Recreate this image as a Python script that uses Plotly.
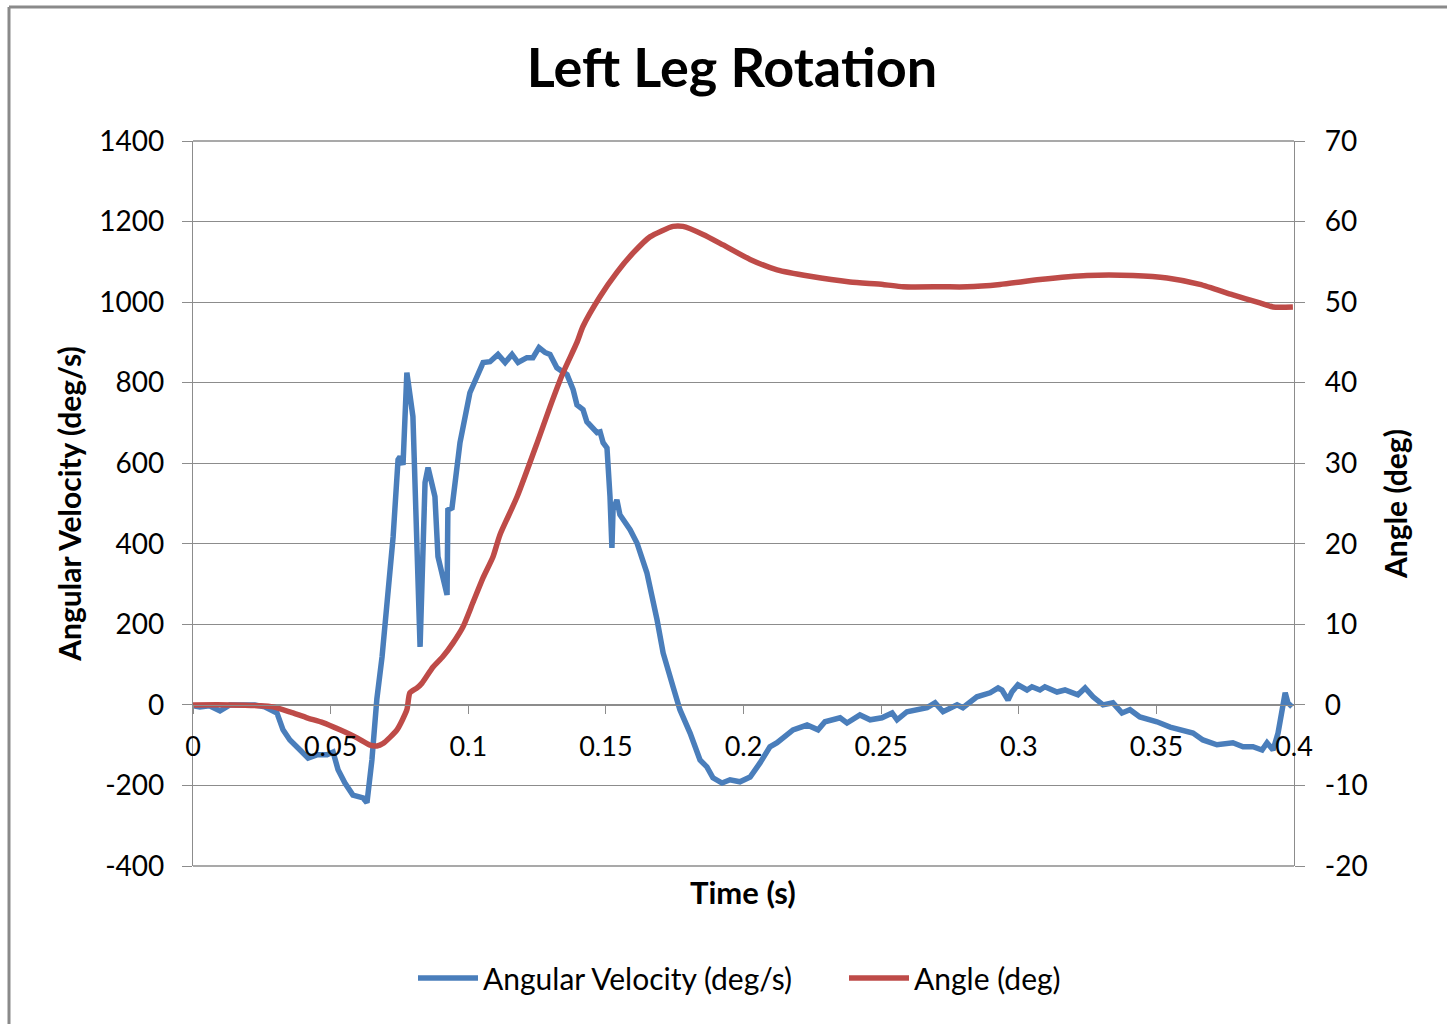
import plotly.graph_objects as go

# ---- data ----
vel_t = [0.0, 0.0025, 0.006, 0.0098, 0.0134, 0.019, 0.0225, 0.026, 0.0287, 0.0305,
         0.0327, 0.0352, 0.0389, 0.0418, 0.045, 0.0487, 0.0509, 0.0527, 0.0552, 0.0581,
         0.0618, 0.0632, 0.065, 0.0668, 0.0687, 0.0727, 0.0745, 0.0752, 0.0763, 0.0777,
         0.0799, 0.0825, 0.0843, 0.0854, 0.0879, 0.089, 0.0923, 0.0926, 0.0941, 0.097,
         0.1006, 0.1032, 0.1054, 0.1079, 0.1108, 0.1134, 0.1159, 0.1181, 0.1213, 0.1235,
         0.1257, 0.1279, 0.1297, 0.1322, 0.1359, 0.1381, 0.1395, 0.1417, 0.1431, 0.1468,
         0.1479, 0.149, 0.1504, 0.1515, 0.1522, 0.1526, 0.154, 0.1551, 0.1588, 0.1613,
         0.1649, 0.1686, 0.1708, 0.1744, 0.1769, 0.1806, 0.1842, 0.1867, 0.1889, 0.1922,
         0.1951, 0.1987, 0.2024, 0.206, 0.2096, 0.2122, 0.2158, 0.218, 0.2231, 0.2271,
         0.2296, 0.2351, 0.2376, 0.2423, 0.246, 0.2503, 0.254, 0.2558, 0.2594, 0.2667,
         0.2696, 0.2725, 0.2776, 0.2797, 0.2848, 0.2896, 0.2925, 0.2939, 0.2961, 0.2975,
         0.2997, 0.303, 0.3048, 0.3077, 0.3095, 0.3139, 0.3168, 0.3197, 0.3215, 0.3241,
         0.327, 0.3306, 0.3342, 0.3375, 0.3404, 0.344, 0.3502, 0.355, 0.3597, 0.3633,
         0.3669, 0.372, 0.3778, 0.3815, 0.3851, 0.3884, 0.3902, 0.3924, 0.3942, 0.3968,
         0.3978, 0.3993]
vel_v = [-2, -5, -2, -15, 0, 2, 0, -5, -12, -20,
         -62, -87, -112, -132, -124, -124, -117, -161, -194, -224,
         -231, -243, -137, 15, 120, 417, 609, 616, 596, 825,
         716, 144, 552, 589, 517, 368, 273, 484, 489, 651,
         775, 812, 850, 852, 870, 850, 870, 850, 862, 862,
         887, 875, 870, 837, 820, 783, 745, 733, 703, 676,
         678, 651, 638, 517, 390, 484, 509, 472, 435, 402,
         328, 211, 129, 45, -12, -70, -137, -154, -181, -194,
         -186, -191, -179, -144, -104, -94, -75, -62, -50, -62,
         -42, -32, -45, -25, -37, -32, -20, -37, -17, -7,
         5, -17, 0, -7, 20, 30, 42, 37, 12, 32,
         50, 37, 45, 37, 45, 32, 37, 30, 25, 42,
         20, 0, 5, -20, -12, -30, -42, -55, -62, -70,
         -87, -99, -94, -104, -104, -112, -94, -112, -70, 30,
         5, -5]

ang_t = [0.0, 0.0134, 0.0243, 0.0291, 0.0352, 0.0414, 0.0472, 0.0534, 0.0596, 0.0643,
         0.0668, 0.069, 0.0741, 0.0777, 0.0788, 0.0814, 0.0832, 0.0872, 0.0908, 0.0945,
         0.0981, 0.1017, 0.1054, 0.109, 0.1115, 0.1177, 0.125, 0.1297, 0.1344, 0.1395,
         0.1417, 0.1479, 0.154, 0.1599, 0.166, 0.1744, 0.178, 0.1853, 0.1926, 0.2024,
         0.2122, 0.2242, 0.2387, 0.2507, 0.258, 0.2725, 0.2812, 0.2932, 0.3077, 0.3248,
         0.3415, 0.3539, 0.3658, 0.3778, 0.3876, 0.3924, 0.3996]
ang_v = [0.0, 0.0, -0.1, -0.25, -0.87, -1.6, -2.2, -3.1, -4.1, -5.0,
         -5.1, -4.8, -3.1, -0.6, 1.5, 2.1, 2.7, 4.7, 6.0, 7.7,
         9.7, 12.7, 15.8, 18.4, 21.1, 25.8, 32.5, 37.0, 41.2, 45.0,
         47.0, 50.7, 53.7, 56.1, 58.1, 59.4, 59.4, 58.4, 57.1, 55.3,
         54.0, 53.2, 52.5, 52.2, 51.9, 51.9, 51.9, 52.2, 52.8, 53.3,
         53.3, 53.0, 52.2, 50.9, 49.9, 49.4, 49.4]

x_ticks = [0, 0.05, 0.1, 0.15, 0.2, 0.25, 0.3, 0.35, 0.4]
x_tick_text = ["0", "0.05", "0.1", "0.15", "0.2", "0.25", "0.3", "0.35", "0.4"]
y1_ticks = [-400, -200, 0, 200, 400, 600, 800, 1000, 1200, 1400]
y1_tick_text = ["-400", "-200", "0", "200", "400", "600", "800", "1000", "1200", "1400"]
y2_ticks = [-20, -10, 0, 10, 20, 30, 40, 50, 60, 70]
y2_tick_text = ["-20", "-10", "0", "10", "20", "30", "40", "50", "60", "70"]

title_text = "Left Leg Rotation"
vel_name = "Angular Velocity (deg/s)"
ang_name = "Angle (deg)"
x_title = "Time (s)"

# ---- figure ----
FONT = "Lato, 'Open Sans', sans-serif"
GRID = "#8c8c8c"
BLUE = "#4A7EBB"
RED = "#BE4B48"

fig = go.Figure()
fig.add_trace(go.Scatter(x=vel_t, y=vel_v, name=vel_name, mode="lines",
                         line=dict(color=BLUE, width=5.5), yaxis="y"))
fig.add_trace(go.Scatter(x=ang_t, y=ang_v, name=ang_name, mode="lines",
                         line=dict(color=RED, width=5.5, shape="spline", smoothing=0.6),
                         yaxis="y2"))

zero_pos = 400 / 1800.0

fig.update_layout(
    width=1447, height=1024,
    margin=dict(l=193, r=153, t=141, b=158, pad=0),
    paper_bgcolor="white", plot_bgcolor="white",
    font=dict(family=FONT, size=28, color="#000000"),
    title=dict(text="<b>" + title_text + "</b>", x=732 / 1447, xanchor="center",
               y=1 - 68 / 1024, yanchor="middle", font=dict(size=54, family=FONT)),
    xaxis=dict(range=[0, 0.4], tickvals=x_ticks, ticktext=x_tick_text,
               anchor="free", position=zero_pos, showgrid=False,
               showline=True, linecolor=GRID, linewidth=1.3,
               ticks="outside", ticklen=8, tickcolor=GRID, tickwidth=1.3,
               ticklabelstandoff=10,
               tickfont=dict(size=27), zeroline=False),
    yaxis=dict(range=[-400, 1400], tickvals=y1_ticks, ticktext=y1_tick_text,
               showgrid=True, gridcolor=GRID, gridwidth=1.3,
               showline=True, linecolor=GRID, linewidth=1.3, zeroline=False,
               ticks="outside", ticklen=10, tickcolor=GRID, tickwidth=1.3,
               ticklabelstandoff=12,
               tickfont=dict(size=28),
               title=dict(text="<b>" + vel_name + "</b>", font=dict(size=30), standoff=8)),
    yaxis2=dict(range=[-20, 70], tickvals=y2_ticks, ticktext=y2_tick_text,
                overlaying="y", side="right", showgrid=False,
                showline=True, linecolor=GRID, linewidth=1.3, zeroline=False,
                ticks="outside", ticklen=10, tickcolor=GRID, tickwidth=1.3,
                ticklabelstandoff=14,
                tickfont=dict(size=28),
                title=dict(text="<b>" + ang_name + "</b>", font=dict(size=30), standoff=19)),
    legend=dict(orientation="h", x=(413 - 193) / 1101, xanchor="left",
                y=(866 - 978) / 725, yanchor="middle",
                font=dict(size=30), itemwidth=60, traceorder="normal",
                entrywidth=356, entrywidthmode="pixels"),
    showlegend=True,
)

fig.add_annotation(text="<b>" + x_title + "</b>", xref="paper", yref="paper",
                   x=(743 - 193) / 1101, y=(866 - 892) / 725, xanchor="center", yanchor="middle",
                   showarrow=False, font=dict(size=31, family=FONT))

# top and bottom gridlines of the plotting area
for yp in (0.0, 1.0):
    fig.add_shape(type="line", xref="paper", yref="paper", x0=0, x1=1, y0=yp, y1=yp,
                  line=dict(color=GRID, width=1.3), layer="below")

# outer chart border (left and top edges)
fig.add_shape(type="line", xref="paper", yref="paper",
              x0=(9 - 193) / 1101, x1=(1447 - 193) / 1101, y0=(866 - 7) / 725, y1=(866 - 7) / 725,
              line=dict(color="#8a8a8a", width=3))
fig.add_shape(type="line", xref="paper", yref="paper",
              x0=(9 - 193) / 1101, x1=(9 - 193) / 1101, y0=(866 - 7) / 725, y1=(866 - 1030) / 725,
              line=dict(color="#8a8a8a", width=3))

fig.write_html("out.html")
